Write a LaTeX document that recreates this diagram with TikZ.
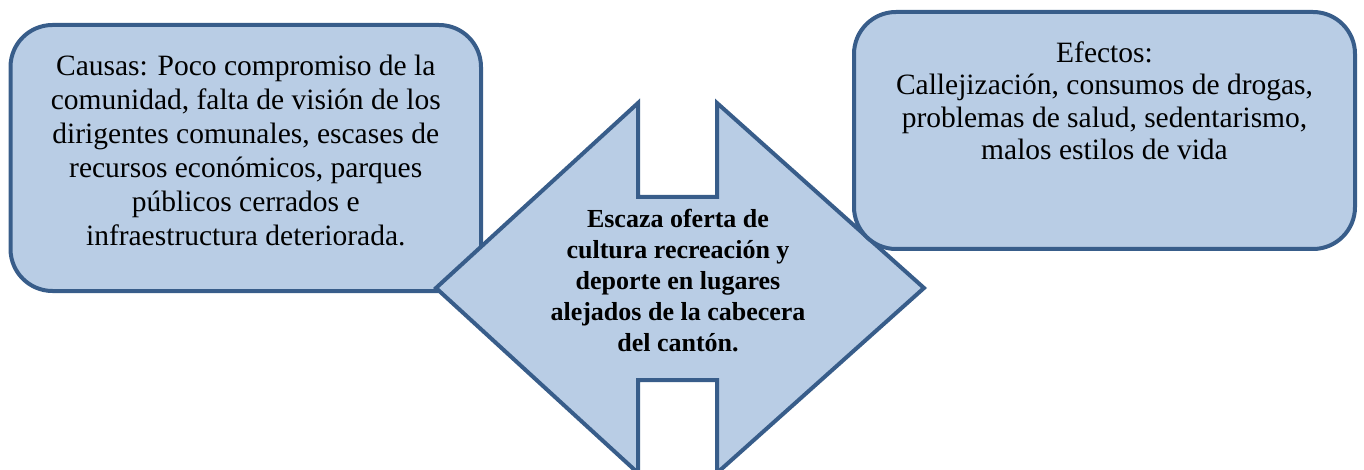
\documentclass[tikz,border=0pt]{standalone}
\usepackage{fontspec}
\setmainfont{Liberation Serif}
\usetikzlibrary{positioning}
\definecolor{relleno}{HTML}{B9CDE5}
\definecolor{borde}{HTML}{385D8A}

\begin{document}
\begin{tikzpicture}[x=1pt,y=-1pt,node distance=30pt]
    \tikzstyle{caja}=[draw=borde,fill=relleno,line width=4pt,rounded corners=42pt,inner sep=0pt,outer sep=0pt,anchor=north west]
    \tikzstyle{texto}=[inner sep=0pt,align=center,font=\fontsize{29.5}{34}\selectfont]

    \clip (0,0) rectangle (1364,470);

    \node[caja,minimum width=470.5pt,minimum height=266pt] (causas) at (10.5,25) {};
    \node[texto] (causastxt) [below=29.5pt of causas.north] {Causas: Poco compromiso de la\\comunidad, falta de visión de los\\dirigentes comunales, escases de\\recursos económicos, parques\\públicos cerrados e\\infraestructura deteriorada.};

    % flecha central
    \draw[draw=borde,fill=relleno,line width=4pt] (436,288) -- (638,103) -- (638,197) -- (717,197) -- (717,103) -- (924,288) -- (717,473) -- (717,380) -- (638,380) -- (638,473) -- cycle;
    \node[texto,font=\bfseries\fontsize{26}{31}\selectfont,anchor=north] (problema) at (678,209) {Escaza oferta de\\cultura recreación y\\deporte en lugares\\alejados de la cabecera\\del cantón.};

    \node[caja,minimum width=501pt,minimum height=237pt] (efectos) at (854,12) {};
    \node[texto,font=\fontsize{29.5}{32.3}\selectfont] (efectostxt) [below=29.5pt of efectos.north] {Efectos:\\Callejización, consumos de drogas,\\problemas de salud, sedentarismo,\\malos estilos de vida};
\end{tikzpicture}
\end{document}
